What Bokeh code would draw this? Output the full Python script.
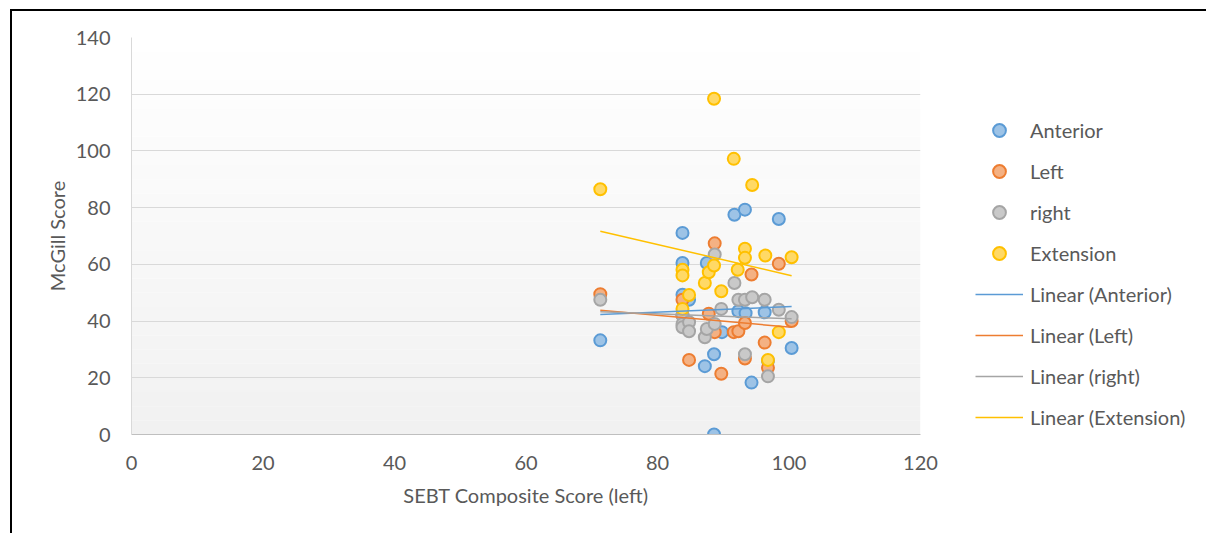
from bokeh.plotting import figure
from bokeh.models import Legend, LegendItem, BoxAnnotation, FixedTicker, ColumnDataSource
from bokeh.embed import file_html
from bokeh.resources import INLINE

# ---- data ----
ant_x = [71.3, 83.8, 83.8, 83.8, 84.8, 87.5, 87.2, 88.6, 88.6, 89.8, 91.7, 92.3, 93.3, 93.4, 94.3, 96.3, 96.8, 98.45, 100.4]
ant_y = [33.2, 71.1, 60.5, 49.3, 47.5, 60.5, 24.1, 28.3, 0.0, 36.1, 77.5, 43.5, 79.3, 42.8, 18.3, 43.1, 26.0, 76.0, 30.5]

left_x = [71.3, 83.8, 83.8, 84.8, 87.8, 88.7, 88.7, 89.7, 91.6, 92.3, 93.3, 93.3, 94.3, 96.3, 96.8, 98.45, 100.4]
left_y = [49.5, 47.5, 42.0, 26.3, 42.6, 67.4, 36.1, 21.4, 36.1, 36.4, 39.3, 26.8, 56.4, 32.4, 23.5, 60.2, 40.0]

right_x = [71.3, 83.8, 83.8, 83.8, 84.8, 84.8, 87.2, 87.5, 88.7, 88.7, 89.7, 91.7, 92.3, 93.3, 93.3, 94.4, 96.3, 96.8, 98.45, 100.4]
right_y = [47.5, 42.0, 39.0, 37.8, 39.6, 36.4, 34.3, 37.2, 39.0, 63.5, 44.3, 53.4, 47.5, 47.5, 28.3, 48.4, 47.5, 20.5, 44.0, 41.4]

ext_x = [71.3, 83.8, 83.8, 83.8, 84.8, 87.2, 87.8, 88.6, 88.6, 89.7, 91.6, 92.2, 93.3, 93.3, 94.4, 96.4, 96.8, 98.45, 100.4]
ext_y = [86.5, 58.1, 56.1, 44.3, 49.2, 53.4, 57.2, 118.4, 59.6, 50.5, 97.2, 58.1, 65.5, 62.3, 88.0, 63.1, 26.3, 36.1, 62.5]

trend_x = [71.3, 100.4]
trend_ant = [42.3, 45.1]
trend_left = [43.8, 37.8]
trend_right = [43.3, 40.8]
trend_ext = [71.7, 56.0]

x_ticks = [0, 20, 40, 60, 80, 100, 120]
y_ticks = [0, 20, 40, 60, 80, 100, 120, 140]

series = [
    ("Anterior", ant_x, ant_y, "#5B9BD5", "#9DC3E6", trend_ant),
    ("Left", left_x, left_y, "#ED7D31", "#F4B183", trend_left),
    ("right", right_x, right_y, "#A5A5A5", "#C9C9C9", trend_right),
    ("Extension", ext_x, ext_y, "#FFC000", "#FFD966", trend_ext),
]

FONT = "Lato"
TXT = "#595959"

p = figure(width=1194, height=522, output_backend="svg", toolbar_location=None,
           x_range=(0, 120), y_range=(0, 140),
           frame_width=789, frame_height=397,
           min_border_left=119, min_border_top=26, min_border_bottom=99, min_border_right=286)
p.styles = {"margin-left": "10px", "margin-top": "9px",
            "border-left": "2px solid black", "border-top": "2px solid black"}
p.outline_line_color = None
p.background_fill_color = "white"
p.border_fill_color = "white"

# subtle vertical gradient in the plot area
nb = 28
for i in range(nb):
    t = i / (nb - 1)
    c = int(round(241 + (255 - 241) * t))
    p.add_layout(BoxAnnotation(bottom=140 * i / nb, top=140 * (i + 1) / nb,
                               fill_color=f"#{c:02x}{c:02x}{c:02x}", fill_alpha=1.0,
                               line_color=None, level="image"))

p.xgrid.visible = False
p.ygrid.ticker = FixedTicker(ticks=y_ticks)
p.ygrid.grid_line_color = "#D9D9D9"
p.ygrid.grid_line_width = 1
p.ygrid.level = "underlay"

for ax in (p.xaxis[0], p.yaxis[0]):
    ax.major_tick_line_color = None
    ax.minor_tick_line_color = None
    ax.major_label_text_font = FONT
    ax.major_label_text_font_size = "20px"
    ax.major_label_text_color = TXT
    ax.axis_label_text_font = FONT
    ax.axis_label_text_font_size = "20px"
    ax.axis_label_text_color = TXT
    ax.axis_label_text_font_style = "normal"

p.xaxis.ticker = FixedTicker(ticks=x_ticks)
p.yaxis.ticker = FixedTicker(ticks=y_ticks)
p.xaxis.axis_line_color = "#BFBFBF"
p.yaxis.axis_line_color = "#D9D9D9"
p.xaxis.axis_label = "SEBT Composite Score (left)"
p.yaxis.axis_label = "McGill Score"
p.xaxis.major_label_standoff = 15
p.yaxis.major_label_standoff = 15
p.xaxis.axis_label_standoff = 10
p.yaxis.axis_label_standoff = 4

scatter_items = []
line_items = []
for name, xs, ys, lc, fc, tr in series:
    src = ColumnDataSource(dict(x=xs, y=ys))
    r = p.scatter("x", "y", source=src, size=12, fill_color=fc, line_color=lc, line_width=2)
    scatter_items.append(LegendItem(label=name, renderers=[r]))
for name, xs, ys, lc, fc, tr in series:
    lsrc = ColumnDataSource(dict(x=trend_x, y=tr))
    lr = p.line("x", "y", source=lsrc, line_color=lc, line_width=1.5)
    line_items.append(LegendItem(label=f"Linear ({name})", renderers=[lr]))

legend = Legend(items=scatter_items + line_items, location=(55, 1),
                glyph_width=48, glyph_height=32, label_height=32, spacing=9,
                label_standoff=7, padding=0, margin=0,
                label_text_font=FONT, label_text_font_size="20px", label_text_color=TXT,
                border_line_color=None, background_fill_alpha=0)
p.add_layout(legend, "right")

open("out.html", "w").write(file_html(p, INLINE))
